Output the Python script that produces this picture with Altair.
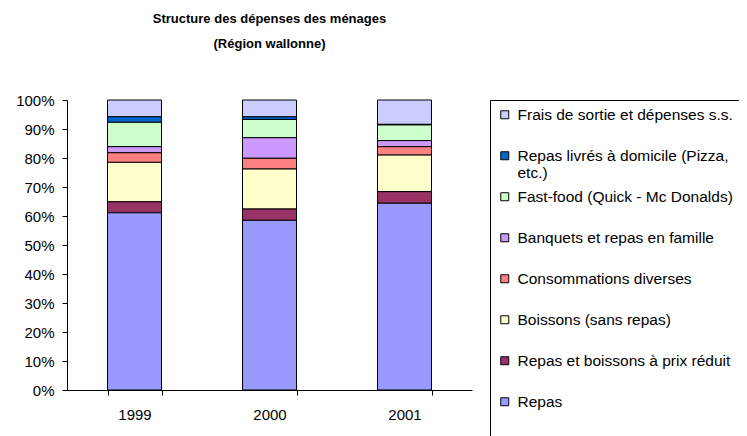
import altair as alt
import pandas as pd

years = ["1999", "2000", "2001"]
series = [
    "Frais de sortie et dépenses s.s.",
    "Repas livrés à domicile (Pizza, etc.)",
    "Fast-food (Quick - Mc Donalds)",
    "Banquets et repas en famille",
    "Consommations diverses",
    "Boissons (sans repas)",
    "Repas et boissons à prix réduit",
    "Repas",
]
colors = ["#CCCCFF", "#0066CC", "#CCFFCC", "#CC99FF", "#FF8080", "#FFFFCC", "#993366", "#9999FF"]
v1999 = [5.8, 1.9, 8.4, 2.1, 3.3, 13.6, 3.8, 61.1]
v2000 = [5.8, 0.9, 6.3, 7.1, 3.7, 13.8, 3.9, 58.5]
v2001 = [8.4, 0.2, 5.4, 2.1, 2.9, 12.6, 4.0, 64.4]
y_ticks = [i / 10 for i in range(11)]

rows = []
for y, vals in zip(years, [v1999, v2000, v2001]):
    for si, (s, v) in enumerate(zip(series, vals)):
        rows.append({"annee": y, "poste": s, "valeur": v, "ordre": len(series) - si})
df = pd.DataFrame(rows)

FONT = "Liberation Sans"
nb = "\u00a0"

wrap_expr = (
    "datum.label == 'Repas livrés à domicile (Pizza, etc.)' ? "
    "['Repas livrés à domicile (Pizza,', 'etc.)'] : [datum.label, '']"
)

chart = (
    alt.Chart(
        df,
        title=alt.Title(
            ["Structure des dépenses des ménages" + nb * 7, "(Région wallonne)"],
            font=FONT,
            fontSize=13,
            fontWeight="bold",
            color="black",
            anchor="middle",
            frame="group",
            baseline="bottom",
            lineHeight=25,
            offset=29,
        ),
    )
    .mark_bar(stroke="black", strokeWidth=1)
    .encode(
        x=alt.X(
            "annee:N",
            sort=years,
            scale=alt.Scale(paddingInner=0.6, paddingOuter=0.3),
            axis=alt.Axis(
                title=None,
                labelAngle=0,
                tickBand="extent",
                tickSize=5,
                tickColor="black",
                domainColor="black",
                labelFont=FONT,
                labelFontSize=15,
                labelColor="black",
                labelPadding=12,
            ),
        ),
        y=alt.Y(
            "valeur:Q",
            stack="normalize",
            scale=alt.Scale(domain=[0, 1]),
            axis=alt.Axis(
                title=None,
                values=y_ticks,
                format=".0%",
                grid=False,
                tickSize=5,
                tickColor="black",
                domainColor="black",
                labelFont=FONT,
                labelFontSize=15,
                labelColor="black",
                labelPadding=8,
            ),
        ),
        color=alt.Color(
            "poste:N",
            scale=alt.Scale(domain=series, range=colors),
            legend=alt.Legend(
                title=" ",
                titleOrient="bottom",
                titlePadding=10,
                orient="none",
                legendX=423,
                legendY=0,
                symbolType="square",
                symbolSize=64,
                symbolStrokeColor="black",
                symbolStrokeWidth=1,
                labelFont=FONT,
                labelFontSize=15.5,
                labelColor="black",
                labelLimit=600,
                labelOffset=5,
                labelExpr=wrap_expr,
                rowPadding=7,
                padding=7,
                strokeColor="black",
                fillColor="white",
            ),
        ),
        order=alt.Order("ordre:Q", sort="ascending"),
    )
    .properties(
        width=405,
        height=290,
        autosize=alt.AutoSizeParams(type="none"),
        padding={"left": 59, "top": 92, "right": 267, "bottom": 46},
    )
    .configure_view(stroke=None)
)

chart.save("out.html", embed_options={"renderer": "svg", "actions": False})
